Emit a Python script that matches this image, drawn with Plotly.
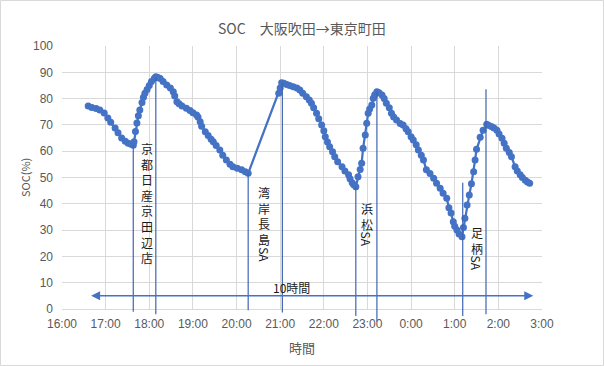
import plotly.graph_objects as go
from datetime import datetime, timedelta

# ---------------- data ----------------
times = [
    "16:36", "16:41", "16:47", "16:52", "16:58", "17:03", "17:07", "17:13", "17:17", "17:22",
    "17:27", "17:31", "17:35", "17:38",
    "17:39", "17:41", "17:43", "17:45", "17:47", "17:50", "17:52", "17:54", "17:57", "18:00",
    "18:03", "18:07", "18:09",
    "18:12", "18:15", "18:19", "18:24", "18:29", "18:33", "18:35", "18:38", "18:41", "18:45",
    "18:51", "18:56", "19:00", "19:05", "19:07", "19:10", "19:12", "19:17", "19:21", "19:25",
    "19:28", "19:32", "19:37", "19:41", "19:46", "19:51", "19:55", "20:01", "20:07", "20:12",
    "20:16",
    "20:58", "21:00", "21:02",
    "21:05", "21:09", "21:13", "21:18", "21:23", "21:27", "21:31", "21:36", "21:40", "21:43",
    "21:46", "21:50", "21:53", "21:57", "22:00", "22:02", "22:05", "22:08", "22:12", "22:15",
    "22:19", "22:25", "22:29", "22:34", "22:36", "22:39", "22:41", "22:44",
    "22:47", "22:50", "22:52", "22:54", "22:57", "22:59", "23:01", "23:03", "23:06", "23:08",
    "23:10", "23:13",
    "23:16", "23:20", "23:23", "23:26", "23:30", "23:33", "23:36", "23:40", "23:45", "23:49",
    "23:53", "23:56", "0:00", "0:03", "0:07", "0:10", "0:14", "0:17", "0:21", "0:26",
    "0:31", "0:35", "0:40", "0:44", "0:49", "0:52", "0:55", "0:58", "1:00", "1:03",
    "1:06", "1:10",
    "1:12", "1:14", "1:17", "1:20", "1:23", "1:26", "1:28", "1:30", "1:35", "1:39", "1:44",
    "1:47", "1:51", "1:54", "1:58", "2:01", "2:05", "2:08", "2:11", "2:15", "2:18",
    "2:23", "2:26", "2:30", "2:33", "2:37", "2:40", "2:43",
]
soc = [
    77.2, 76.6, 76.2, 75.7, 74.5, 72.6, 71.0, 68.8, 67.0, 65.0,
    63.8, 63.0, 62.6, 62.3,
    63.6, 67.5, 70.7, 73.5, 75.7, 78.5, 80.5, 82.0, 83.5, 85.0,
    86.5, 87.7, 88.3,
    88.0, 87.6, 86.5, 85.2, 84.0, 82.6, 81.0, 78.8, 78.0, 77.2,
    76.3, 75.5, 74.6, 73.8, 73.0, 71.2, 69.5, 67.4, 66.0, 64.5,
    63.6, 62.2, 60.5, 58.5, 56.7, 55.0, 54.1, 53.5, 52.9, 52.2,
    51.6,
    82.0, 84.0, 86.0,
    85.8, 85.4, 85.0, 84.5, 84.0, 83.3, 82.0, 80.7, 79.5, 78.2,
    76.5, 74.4, 72.3, 70.0, 67.8, 65.5, 63.5, 61.7, 59.8, 57.9,
    56.0, 54.1, 52.5, 51.0, 49.5, 48.0, 47.2, 46.5,
    50.3, 53.0, 55.4, 61.1, 66.2, 70.6, 74.4, 76.0, 77.6, 80.1,
    81.5, 82.6,
    82.2, 81.4, 80.0, 78.2, 76.5, 74.4, 73.0, 71.9, 70.5, 70.0,
    68.5, 67.4, 65.5, 64.3, 62.5, 60.5, 58.5, 56.7, 52.9, 51.5,
    49.7, 47.8, 45.9, 44.0, 42.1, 38.5, 36.5, 33.2, 31.5, 30.0,
    28.5, 27.5,
    31.0, 34.5, 39.5, 43.3, 47.6, 52.2, 56.7, 60.7, 65.3, 68.0, 70.2,
    69.8, 69.3, 68.8, 68.0, 66.5, 64.9, 63.0, 61.1, 59.5, 57.9,
    54.1, 52.5, 51.0, 50.0, 49.0, 48.3, 47.8,
]

# vertical marker lines (stop times) and the SOC where each line ends at the top
stop_times = ["17:38", "18:09", "20:16", "21:03", "22:44", "23:13", "1:11", "1:43"]
stop_tops = [62.3, 88.0, 51.6, 86.0, 46.5, 82.5, 48.0, 83.6]

# stop names (vertical text)
stop_names = ["京都日産京田辺店", "湾岸長島SA", "浜松SA", "足柄SA"]

tick_labels = ["16:00", "17:00", "18:00", "19:00", "20:00", "21:00",
               "22:00", "23:00", "0:00", "1:00", "2:00", "3:00"]

arrow_label = "10時間"
arrow_start, arrow_end = "16:38", "2:48"

title_text = "SOC　大阪吹田→東京町田"
x_title = "時間"
y_title = "SOC(%)"


# ---------------- helpers ----------------
BASE = datetime(2021, 1, 1)


def to_dt(s):
    parts = [int(p) for p in s.split(":")]
    h, m = parts[0], parts[1]
    sec = parts[2] if len(parts) > 2 else 0
    d = BASE + timedelta(hours=h, minutes=m, seconds=sec)
    if h < 12:
        d += timedelta(days=1)
    return d


x = [to_dt(t) for t in times]
tickvals = [to_dt(t) for t in tick_labels]

BLUE = "#4472C4"
LINE_BLUE = "#3F65B3"
GRAY = "#595959"
FONT = "Noto Sans CJK JP"

fig = go.Figure()
fig.add_trace(go.Scatter(
    x=x, y=soc, mode="lines+markers",
    line=dict(color=BLUE, width=2.25),
    marker=dict(color=BLUE, size=7),
    showlegend=False, hoverinfo="skip",
))

shapes = []
# vertical lines (extend slightly below the axis like the hand-drawn ones)
bottoms = [-0.010, -0.020, -0.005, -0.013, -0.027, -0.048, -0.027, -0.020]
for t, top, b in zip(stop_times, stop_tops, bottoms):
    shapes.append(dict(type="line", xref="x", yref="paper",
                       x0=to_dt(t), x1=to_dt(t), y0=b, y1=top / 100.0,
                       line=dict(color=LINE_BLUE, width=1.2)))

# chart border
shapes.append(dict(type="rect", xref="paper", yref="paper",
                   x0=-61.5 / 480, x1=1 + 61.5 / 480, y0=-56.5 / 263, y1=1 + 45.5 / 263,
                   line=dict(color="#D9D9D9", width=1)))

annotations = []

# vertical text labels: (center time, top SOC)
label_pos = [("17:56:30", 65.0), ("20:38", 48.3), ("22:59", 42.2), ("1:30", 33.1)]
VFS = 12
LINE_H = VFS * 1.3
for name, (t, top) in zip(stop_names, label_pos):
    kanji = name[:-2] if name.endswith("SA") else name
    annotations.append(dict(x=to_dt(t), y=top, xref="x", yref="y",
                            text="<br>".join(kanji),
                            showarrow=False, yanchor="top", xanchor="center",
                            font=dict(family=FONT, size=VFS, color="#1a1a1a")))
    if name.endswith("SA"):
        annotations.append(dict(x=to_dt(t), y=top, xref="x", yref="y", text="SA",
                                textangle=90, showarrow=False, yanchor="middle",
                                xanchor="center",
                                yshift=-(len(kanji) * LINE_H + 10),
                                font=dict(family=FONT, size=12, color="#1a1a1a")))

# double headed arrow
annotations.append(dict(x=to_dt(arrow_end), y=5, ax=to_dt(arrow_start), ay=5,
                        xref="x", yref="y", axref="x", ayref="y", text="",
                        showarrow=True, arrowhead=2, startarrowhead=2,
                        arrowside="end+start", arrowsize=1.2, startarrowsize=1.2,
                        arrowwidth=1.5, arrowcolor=BLUE))
annotations.append(dict(x=to_dt("21:15"), y=8.2, xref="x", yref="y", text=arrow_label,
                        showarrow=False, font=dict(family=FONT, size=12, color="#1a1a1a")))

# title and axis titles
annotations.append(dict(x=0.5, y=1 + (46 - 28) / 263, xref="paper", yref="paper",
                        xanchor="center", yanchor="middle", text=title_text,
                        showarrow=False, font=dict(family=FONT, size=14, color=GRAY)))
annotations.append(dict(x=0.5, y=-(347 - 309) / 263, xref="paper", yref="paper",
                        xanchor="center", yanchor="middle",
                        text=x_title, showarrow=False,
                        font=dict(family=FONT, size=13, color=GRAY)))
annotations.append(dict(x=-(62 - 25) / 480, y=(309 - 178) / 263, xref="paper", yref="paper",
                        xanchor="center", yanchor="middle",
                        text=y_title, textangle=-90, showarrow=False,
                        font=dict(family=FONT, size=11, color=GRAY)))

fig.update_layout(
    width=604, height=366,
    margin=dict(l=62, r=62, t=46, b=57),
    paper_bgcolor="white", plot_bgcolor="white",
    shapes=shapes, annotations=annotations,
    font=dict(family=FONT, color=GRAY),
    xaxis=dict(
        range=[tickvals[0], tickvals[-1]],
        tickvals=tickvals, ticktext=tick_labels,
        showgrid=True, gridcolor="#D9D9D9", gridwidth=1,
        showline=True, linecolor="#D9D9D9", linewidth=1,
        zeroline=False, ticks="",
        tickfont=dict(family="Liberation Sans", size=12, color=GRAY),
        ticklabelstandoff=4,
    ),
    yaxis=dict(
        range=[0, 100], dtick=10, tick0=0,
        showgrid=True, gridcolor="#D9D9D9", gridwidth=1,
        showline=False, zeroline=False, ticks="",
        tickfont=dict(family="Liberation Sans", size=12, color=GRAY),
        ticklabelstandoff=8,
    ),
)

fig.write_html("out.html", config={"displayModeBar": False},
               post_script="document.body.style.margin='0px';")
